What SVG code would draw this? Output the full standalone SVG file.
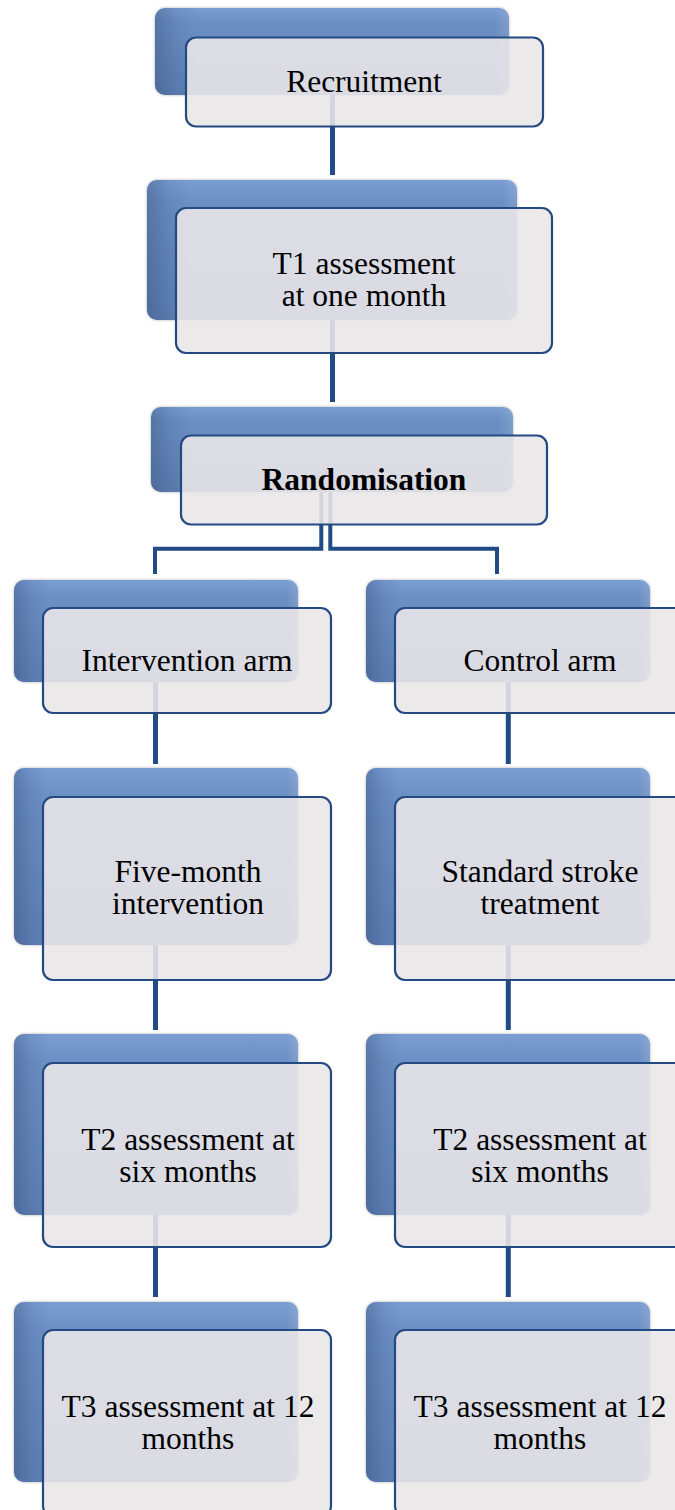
<svg xmlns="http://www.w3.org/2000/svg" width="675" height="1510" viewBox="0 0 675 1510">
<defs>
<linearGradient id="bg" x1="0" y1="0" x2="0" y2="1">
<stop offset="0" stop-color="#7a9dd2"/>
<stop offset="0.15" stop-color="#6d90c4"/>
<stop offset="1" stop-color="#5e80b3"/>
</linearGradient>
<linearGradient id="lb" x1="0" y1="0" x2="1" y2="0">
<stop offset="0" stop-color="#2a4470" stop-opacity="0.35"/>
<stop offset="0.06" stop-color="#2a4470" stop-opacity="0.12"/>
<stop offset="0.12" stop-color="#2a4470" stop-opacity="0"/>
<stop offset="0.96" stop-color="#ffffff" stop-opacity="0"/>
<stop offset="1" stop-color="#ffffff" stop-opacity="0.12"/>
</linearGradient>
<filter id="sh" x="-10%" y="-10%" width="120%" height="120%">
<feDropShadow dx="0" dy="0" stdDeviation="1.6" flood-color="#7a7a7a" flood-opacity="0.6"/>
</filter>
</defs>
<style>
.back{fill:url(#bg);filter:url(#sh)}
.bev{fill:url(#lb)}
.front{fill:#eae6e9;fill-opacity:0.89;stroke:#234a82;stroke-width:2.2}
.c{fill:none;stroke:#214b84;stroke-width:5}
.cb{fill:none;stroke:#214b84;stroke-width:4}
text{font-family:"Liberation Serif","Times New Roman",serif;font-size:31.5px;fill:#000;text-anchor:middle}
.b{font-weight:bold}
</style>
<g id="connectors">
<line class="c" x1="332.5" y1="95" x2="332.5" y2="175"/>
<line class="c" x1="332.5" y1="320" x2="332.5" y2="402"/>
<polyline class="cb" points="321.3,492 321.3,548.7 155,548.7 155,574"/>
<polyline class="cb" points="330.3,492 330.3,548.7 497,548.7 497,574"/>
<line class="c" x1="155.5" y1="682" x2="155.5" y2="764"/>
<line class="c" x1="155.5" y1="945" x2="155.5" y2="1030"/>
<line class="c" x1="155.5" y1="1215" x2="155.5" y2="1297"/>
<line class="c" x1="508.3" y1="682" x2="508.3" y2="764"/>
<line class="c" x1="508.3" y1="945" x2="508.3" y2="1030"/>
<line class="c" x1="508.3" y1="1215" x2="508.3" y2="1297"/>
</g>
<g id="recruitment">
<rect class="back" x="155" y="8" width="354" height="87" rx="10"/>
<rect class="bev" x="155" y="8" width="354" height="87" rx="10"/>
<rect class="front" x="186" y="37.5" width="357" height="89" rx="10"/>
<text x="364" y="92">Recruitment</text>
</g>
<g id="t1">
<rect class="back" x="147" y="180" width="370" height="140" rx="10"/>
<rect class="bev" x="147" y="180" width="370" height="140" rx="10"/>
<rect class="front" x="176" y="208" width="376" height="145" rx="10"/>
<text x="364" y="274">T1 assessment</text>
<text x="364" y="306">at one month</text>
</g>
<g id="randomisation">
<rect class="back" x="151" y="407" width="362" height="85" rx="10"/>
<rect class="bev" x="151" y="407" width="362" height="85" rx="10"/>
<rect class="front" x="181" y="435.5" width="366" height="89" rx="10"/>
<text class="b" x="364" y="490">Randomisation</text>
</g>
<g id="intervention-arm">
<rect class="back" x="14" y="580" width="284" height="102" rx="10"/>
<rect class="bev" x="14" y="580" width="284" height="102" rx="10"/>
<rect class="front" x="43" y="608" width="288" height="105" rx="10"/>
<text x="187" y="671">Intervention arm</text>
</g>
<g id="control-arm">
<rect class="back" x="366" y="580" width="284" height="102" rx="10"/>
<rect class="bev" x="366" y="580" width="284" height="102" rx="10"/>
<rect class="front" x="395" y="608" width="290" height="105" rx="10"/>
<text x="540" y="671">Control arm</text>
</g>
<g id="five-month">
<rect class="back" x="14" y="768" width="284" height="177" rx="10"/>
<rect class="bev" x="14" y="768" width="284" height="177" rx="10"/>
<rect class="front" x="43" y="797" width="288" height="183" rx="10"/>
<text x="188" y="882">Five-month</text>
<text x="188" y="914">intervention</text>
</g>
<g id="standard-treatment">
<rect class="back" x="366" y="768" width="284" height="177" rx="10"/>
<rect class="bev" x="366" y="768" width="284" height="177" rx="10"/>
<rect class="front" x="395" y="797" width="290" height="183" rx="10"/>
<text x="540" y="882">Standard stroke</text>
<text x="540" y="914">treatment</text>
</g>
<g id="t2-left">
<rect class="back" x="14" y="1034" width="284" height="181" rx="10"/>
<rect class="bev" x="14" y="1034" width="284" height="181" rx="10"/>
<rect class="front" x="43" y="1063" width="288" height="184" rx="10"/>
<text x="188" y="1150">T2 assessment at</text>
<text x="188" y="1182">six months</text>
</g>
<g id="t2-right">
<rect class="back" x="366" y="1034" width="284" height="181" rx="10"/>
<rect class="bev" x="366" y="1034" width="284" height="181" rx="10"/>
<rect class="front" x="395" y="1063" width="290" height="184" rx="10"/>
<text x="540" y="1150">T2 assessment at</text>
<text x="540" y="1182">six months</text>
</g>
<g id="t3-left">
<rect class="back" x="14" y="1302" width="284" height="180" rx="10"/>
<rect class="bev" x="14" y="1302" width="284" height="180" rx="10"/>
<rect class="front" x="43" y="1330" width="288" height="186" rx="10"/>
<text x="188" y="1417">T3 assessment at 12</text>
<text x="188" y="1449">months</text>
</g>
<g id="t3-right">
<rect class="back" x="366" y="1302" width="284" height="180" rx="10"/>
<rect class="bev" x="366" y="1302" width="284" height="180" rx="10"/>
<rect class="front" x="395" y="1330" width="290" height="186" rx="10"/>
<text x="540" y="1417">T3 assessment at 12</text>
<text x="540" y="1449">months</text>
</g>
</svg>
